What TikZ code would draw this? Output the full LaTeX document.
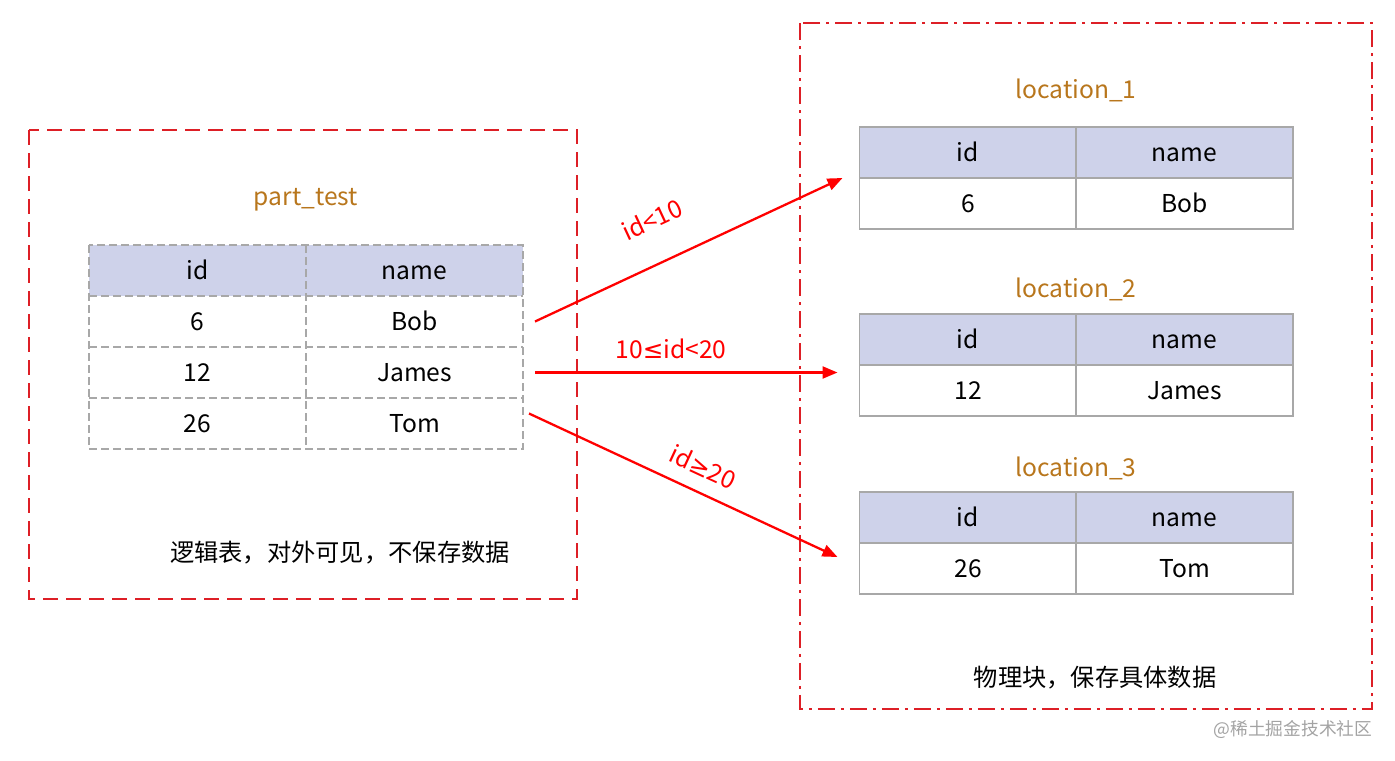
\documentclass[tikz,border=0pt]{standalone}
\usepackage{fontspec}
\setmainfont{Noto Sans CJK SC}
\newfontfamily\symfont{DejaVu Sans}
\usetikzlibrary{arrows.meta, positioning}
\definecolor{cframe}{HTML}{DD1F26}
\definecolor{carrow}{HTML}{FF0000}
\definecolor{chead}{HTML}{CED2EA}
\definecolor{cline}{HTML}{A8A8A8}
\definecolor{ctitle}{HTML}{B8761C}
\definecolor{cmark}{HTML}{A3A3A3}
\tikzset{
  every picture/.style={font=\fontsize{14}{16}\selectfont},
  frame/.style={draw=cframe, line width=0.85pt},
  cell/.style={minimum width=4.34cm, minimum height=1.02cm, inner sep=0pt, outer sep=0pt, text height=1.85ex, text depth=0.05ex},
  solidcell/.style={cell, draw=cline, line width=0.6pt},
  dgrid/.style={draw=cline, line width=0.6pt, dash pattern=on 0.16cm off 0.08cm},
  title/.style={text=ctitle},
  arrow/.style={-{Triangle[length=0.3cm, width=0.24cm]}, draw=carrow, line width=1.3pt},
  lbl/.style={text=carrow, inner sep=0pt},
  note/.style={font=\fontsize{13.8}{16}\selectfont},
}
\begin{document}
\begin{tikzpicture}
  \useasboundingbox (0,0) rectangle (27.9,-15.2);
  % logical table
  \draw[frame, dash pattern=on 0.3cm off 0.16cm] (0.58,-2.6) rectangle (11.54,-11.98);
  \node[title] (pt) at (6.12,-4.0) {part\_test};
  \foreach \y/\f/\a/\b [count=\i] in {-5.41/chead/id/name, -6.43/white/6/Bob, -7.45/white/12/James, -8.47/white/26/Tom} {
    \node[cell, fill=\f] (p\i a) at (3.95,\y) {\a};
    \node[cell, fill=\f] (p\i b) at (8.29,\y) {\b};
  }
  \draw[dgrid] (p1a.north west) rectangle (p4b.south east);
  \draw[dgrid] (p1a.north east) -- (p4a.south east);
  \foreach \i in {1,2,3} \draw[dgrid] (p\i a.south west) -- (p\i b.south east);
  \node[note] (lnote) at (6.8,-11.06) {逻辑表，对外可见，不保存数据};

  % physical blocks
  \draw[frame, dash pattern=on 0.34cm off 0.12cm on 0.06cm off 0.12cm] (16.0,-0.46) rectangle (27.44,-14.18);
  \foreach \ty/\y/\a/\b/\t [count=\i] in {-1.8/-3.05/6/Bob/location\_1, -5.78/-6.79/12/James/location\_2, -9.36/-10.35/26/Tom/location\_3} {
    \node[title] (t\i) at (21.52,\ty) {\t};
    \node[solidcell, fill=chead] (l\i a) at (19.36,\y) {id};
    \node[solidcell, fill=chead] (l\i b) at (23.69,\y) {name};
    \node[solidcell] (l\i c) at (19.36,\y-1.02) {\a};
    \node[solidcell] (l\i d) at (23.69,\y-1.02) {\b};
  }
  \node[note] (rnote) at (21.9,-13.56) {物理块，保存具体数据};
  \node[text=cmark, font=\fontsize{10.1}{12}\selectfont] (mark) at (25.86,-14.58) {@稀土掘金技术社区};

  % partition rules
  \coordinate (e2) at (p3b.east -| l2a.west);
  \draw[arrow] ([xshift=0.24cm]p2b.east) -- node[lbl, pos=0.44, sloped, above=0.64cm] {id<10} ([xshift=-0.34cm]l1a.south west);
  \draw[arrow] ([xshift=0.24cm]p3b.east) -- node[lbl, pos=0.45, above=0.26cm] {10{\symfont ≤}id<20} ([xshift=-0.44cm]e2);
  \draw[arrow] ([xshift=0.12cm, yshift=0.2cm]p4b.east) -- node[lbl, pos=0.53, sloped, above=0.28cm] {id{\symfont ≥}20} ([xshift=-0.44cm, yshift=0.23cm]l3c.west);
\end{tikzpicture}
\end{document}
